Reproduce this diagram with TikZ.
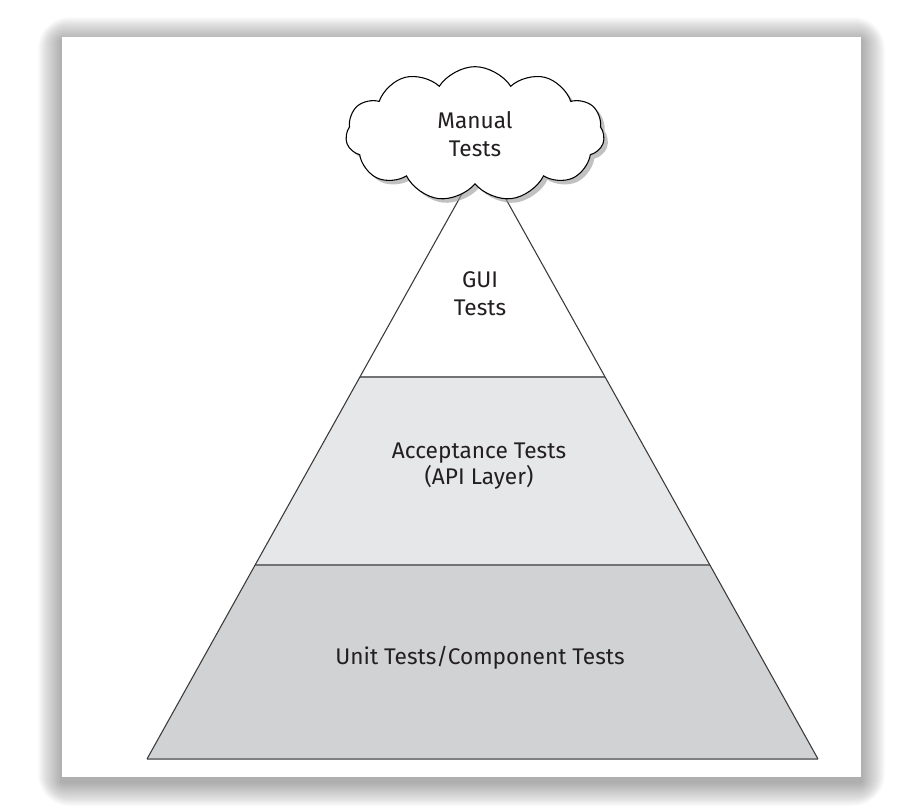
\documentclass[tikz,border=0pt]{standalone}
\usepackage{fontspec}
\setmainfont{Fira Sans}
\usetikzlibrary{shapes,shapes.symbols,shadows,positioning}

\definecolor{accgray}{HTML}{E6E7E8}
\definecolor{unitgray}{HTML}{D1D2D4}
\definecolor{edgegray}{HTML}{3A3A3A}
\definecolor{textblack}{HTML}{231F20}

\begin{document}
\begin{tikzpicture}[%
x=0.75pt,
y=-0.75pt,
tiertext/.style={font=\fontsize{17}{21}\selectfont, text=textblack, align=center},
sideline/.style={draw=edgegray, line width=0.8pt},
tierline/.style={draw=black!55, line width=0.8pt},
baseedge/.style={draw=black!50, line width=1.1pt}
]
\useasboundingbox (0,0) rectangle (924,811);

% card with soft shadow
\foreach \i in {1,...,24}
  \fill[black, opacity=0.014, rounded corners=\i pt] (62-\i,37-\i+4) rectangle (861+\i,777+\i+5);
\fill[white] (62,37) rectangle (861,777);

% pyramid
\coordinate (apex) at (482.5,157);
\coordinate (bl) at (147,759);
\coordinate (br) at (818,759);
\coordinate (gl) at (360,377);
\coordinate (gr) at (605,377);
\coordinate (al) at (255,565);
\coordinate (ar) at (710,565);

\fill[unitgray] (al) -- (ar) -- (br) -- (bl) -- cycle;
\fill[accgray] (gl) -- (gr) -- (ar) -- (al) -- cycle;
\draw[tierline] (gl) -- (gr);
\draw[tierline] (al) -- (ar);
\draw[baseedge] (bl) -- (br);
\draw[sideline] (bl) -- (apex) -- (br);

\node[tiertext] (gui) at (480,294) {GUI\\Tests};
\node[tiertext, font=\fontsize{17}{16.5}\selectfont] (acc) at (479,466) {Acceptance Tests\\(API Layer)};
\node[tiertext] (unit) at (480,658) {Unit Tests/Component Tests};

% cloud on top
\node[cloud, cloud ignores aspect, draw=black, line width=0.8pt, fill=white, cloud puffs=11,
  cloud puff arc=115, minimum width=194pt, minimum height=101pt, tiertext,
  drop shadow={shadow xshift=3pt, shadow yshift=-3pt, fill=black!40, opacity=0.6}]
  (manual) at (475,134) {Manual\\Tests};
\end{tikzpicture}
\end{document}
